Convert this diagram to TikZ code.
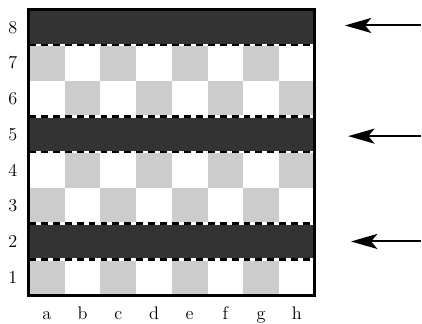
\documentclass[tikz,border=0pt]{standalone}
\usetikzlibrary{arrows.meta}
\definecolor{lightsq}{HTML}{CCCCCC}
\definecolor{darkrow}{HTML}{333333}
\begin{document}
\begin{tikzpicture}[>={Stealth[length=21pt,width=12pt,inset=5pt]},
    lbl/.style={font=\fontsize{14.5pt}{17pt}\selectfont, inner sep=0pt},
    seam/.style={line width=2pt}]
    \useasboundingbox (-0.812,-0.784) rectangle (11.008,8.263);
    % light squares
    \foreach \f in {1,...,8}
      \foreach \r in {1,...,8}{
        \pgfmathtruncatemacro{\parity}{mod(\f+\r,2)}
        \ifnum\parity=0 \fill[lightsq] (\f-1,\r-1) rectangle (\f,\r); \fi
      }
    % dark rows
    \foreach \r in {2,5,8}
        \fill[darkrow] (0,\r-1) rectangle (8,\r);
    % dashed seams
    \foreach \y in {1,2,4,5,7}{
        \draw[seam, white] (0,\y) -- (8,\y);
        \draw[seam, black, dash pattern=on 5.5pt off 4pt] (0,\y) -- (8,\y);
    }
    \draw[line width=2.4pt] (0,0) rectangle (8,8);
    % labels
    \foreach \r in {1,...,8}
        \node (rank\r) [lbl] at (-0.45,\r-0.5) {\r};
    \foreach \f [count=\i] in {a,b,c,d,e,f,g,h}
        \node (file\f) [lbl, anchor=base] at (\i-0.5,-0.68) {\f};
    % arrows
    \coordinate (tip8) at (8.85,7.55);
    \coordinate (tail8) at (10.98,7.55);
    \coordinate (tip5) at (8.94,4.45);
    \coordinate (tail5) at (10.98,4.45);
    \coordinate (tip2) at (9.02,1.5);
    \coordinate (tail2) at (10.98,1.5);
    \draw[->, line width=1.6pt] (tail8) -- (tip8);
    \draw[->, line width=1.6pt] (tail5) -- (tip5);
    \draw[->, line width=1.6pt] (tail2) -- (tip2);
\end{tikzpicture}
\end{document}
